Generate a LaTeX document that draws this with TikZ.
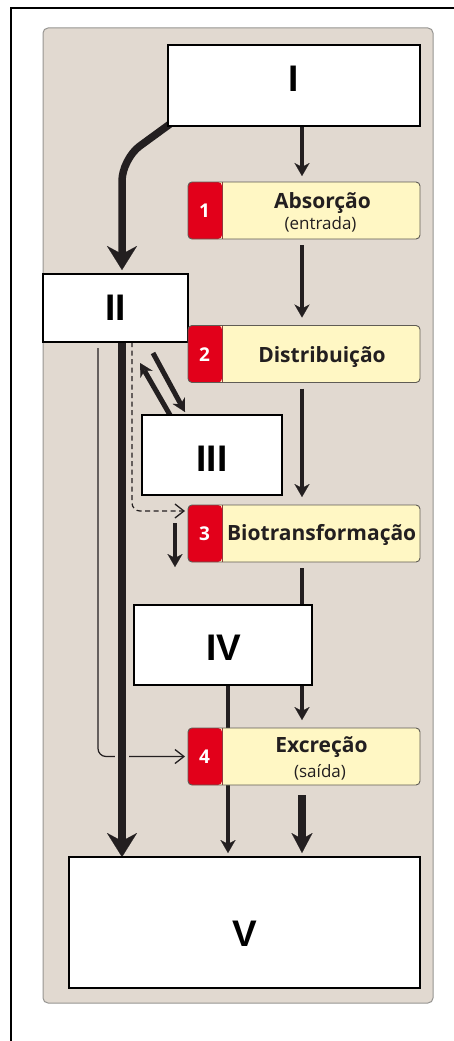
\documentclass[tikz,border=0pt]{standalone}
\usepackage{fontspec}
\setmainfont{Liberation Sans}
\newfontfamily\stagefont{Open Sans}
\usetikzlibrary{arrows.meta}
\definecolor{panelc}{RGB}{225,217,208}
\definecolor{panelb}{RGB}{150,148,145}
\definecolor{stagey}{RGB}{255,247,196}
\definecolor{stager}{RGB}{226,0,26}
\definecolor{ink}{RGB}{35,31,32}
\definecolor{stageb}{RGB}{95,92,85}
\pgfdeclarelayer{panel}
\pgfdeclarelayer{links}
\pgfsetlayers{panel,links,main}
\begin{document}
\begin{tikzpicture}[x=1pt,y=-1pt,
  rbox/.style={draw=black, line width=1.4pt, fill=white, inner sep=0pt, outer sep=0pt},
  rtext/.style={font=\fontsize{37}{40}\selectfont\bfseries, anchor=base, text=black, inner sep=0pt},
  stagebox/.style={draw=stageb, line width=0.9pt, fill=stagey, rounded corners=4pt,
    minimum width=232pt, minimum height=57pt, inner sep=0pt, outer sep=0pt,
    path picture={\fill[stager] (path picture bounding box.north west) rectangle ([xshift=34pt]path picture bounding box.south west);
      \draw[stageb!60!stager, line width=0.8pt] ([xshift=34pt]path picture bounding box.north west) -- ([xshift=34pt]path picture bounding box.south west);}},
  stagetitle/.style={font=\stagefont\fontsize{21}{23}\selectfont\bfseries, anchor=base, text=ink, inner sep=0pt},
  stagesub/.style={font=\stagefont\fontsize{17}{18}\selectfont, anchor=base, text=ink, inner sep=0pt},
  numtext/.style={font=\stagefont\fontsize{19}{20}\selectfont\bfseries, anchor=base, text=white, inner sep=0pt},
  link/.style={draw=ink, line width=4pt, -{Stealth[length=13pt,width=15pt,inset=4pt,line width=0.1pt]}},
  medlink/.style={draw=ink, line width=5pt, -{Stealth[length=13pt,width=14pt,inset=4pt,line width=0.1pt]}},
  midlink/.style={draw=ink, line width=7.5pt, -{Stealth[length=20pt,width=21pt,inset=6pt,line width=0.1pt]}},
  biglink/.style={draw=ink, line width=7.5pt, -{Stealth[length=24pt,width=30pt,inset=8pt,line width=0.1pt]}},
  thinlink/.style={draw=ink, line width=1.2pt, -{Straight Barb[length=9pt,width=14pt,line width=1.3pt]}}
]
\useasboundingbox (0,0) rectangle (454,1041);
\begin{pgfonlayer}{panel}
  \draw[fill=panelc, draw=panelb, line width=1pt, rounded corners=5pt] (43,28) rectangle (433,1003);
\end{pgfonlayer}
\draw[line width=1.5pt, black] (11,1050) -- (11,8) -- (460,8);

% roman boxes
\node[rbox, minimum width=252pt, minimum height=81pt] (I) at (294,85.5) {};
\node[rtext] (tI) at ([yshift=-6.5pt]I.center) {I};
\node[rbox, minimum width=145pt, minimum height=68pt] (II) at (115.5,308) {};
\node[rtext] (tII) at ([yshift=-12pt]II.center) {II};
\node[rbox, minimum width=140pt, minimum height=80pt] (III) at (212,455) {};
\node[rtext] (tIII) at ([yshift=-16pt]III.center) {III};
\node[rbox, minimum width=178pt, minimum height=80pt] (IV) at (223,645) {};
\node[rtext] (tIV) at ([xshift=1pt,yshift=-15pt]IV.center) {IV};
\node[rbox, minimum width=351pt, minimum height=131pt] (V) at (244.5,922.5) {};
\node[rtext] (tV) at ([yshift=-23.5pt]V.center) {V};

% stage boxes
\node[stagebox] (b1) at (304,210.5) {};
\node[numtext] (n1) at ([xshift=-99.5pt,yshift=-6.5pt]b1.center) {1};
\node[stagetitle] (t1) at ([xshift=18.5pt,yshift=2.2pt]b1.center) {Absorção};
\node[stagesub] (s1) at ([xshift=16.5pt,yshift=-18.8pt]b1.center) {(entrada)};

\node[stagebox] (b2) at (304,354) {};
\node[numtext] (n2) at ([xshift=-99.5pt,yshift=-7pt]b2.center) {2};
\node[stagetitle] (t2) at ([xshift=18pt,yshift=-8pt]b2.center) {Distribuição};

\node[stagebox] (b3) at (304,533.5) {};
\node[numtext] (n3) at ([xshift=-99.5pt,yshift=-7pt]b3.center) {3};
\node[stagetitle] (t3) at ([xshift=17.7pt,yshift=-6.8pt]b3.center) {Biotransformação};

\node[stagebox] (b4) at (304,756.5) {};
\node[numtext] (n4) at ([xshift=-99.5pt,yshift=-6.5pt]b4.center) {4};
\node[stagetitle] (t4) at ([xshift=17.5pt,yshift=3.8pt]b4.center) {Excreção};
\node[stagesub] (s4) at ([xshift=16pt,yshift=-21.2pt]b4.center) {(saída)};

\coordinate (cx) at ([xshift=-2pt]b1.center);
\coordinate (xII) at ([xshift=6.5pt]II.south);
\coordinate (cIV) at ([xshift=5pt]IV.south);

\begin{pgfonlayer}{links}
  % main column
  \draw[link, shorten >=6pt] (I.south -| cx) -- (b1.north -| cx);
  \draw[link, shorten <=6pt, shorten >=8pt] (b1.south -| cx) -- (b2.north -| cx);
  \draw[link, shorten <=6pt, shorten >=8pt] (b2.south -| cx) -- (b3.north -| cx);
  \draw[link, shorten <=6pt, shorten >=8pt] (b3.south -| cx) -- (b4.north -| cx);
  \draw[midlink, shorten <=10pt, shorten >=4pt] (b4.south -| cx) -- (V.north -| cx);
  % I to II
  \draw[biglink, rounded corners=22pt, shorten >=4pt] ([shift={(2,-2)}]I.south west) -- ++(-48,35) -- (II.north -| xII);
  % thin II to 4
  \draw[thinlink, rounded corners=8pt, shorten >=3pt] ([shift={(55,6)}]II.south west) |- (b4.west);
  % dashed II to 3
  \draw[thinlink, dash pattern=on 5pt off 3.5pt, rounded corners=8pt, shorten >=3pt] ([xshift=89pt]II.south west) |- ([yshift=-6pt]b3.north west);
  % II to V thick
  \draw[biglink, preaction={draw=panelc, line width=14pt, arrows=-}] (II.south -| xII) -- (V.north -| xII);
  % II <-> III
  \draw[medlink] ([shift={(-35,11)}]II.south east) -- ([shift={(43,-3)}]III.north west);
  \draw[medlink] ([xshift=28pt]III.north west) -- ([shift={(-48,21)}]II.south east);
  % small arrow beside 3
  \draw[link] ([shift={(-13,18)}]b3.north west) -- ++(0,44);
  % IV to V
  \draw[link, shorten >=4pt] (cIV) -- (cIV |- V.north);
\end{pgfonlayer}
\end{tikzpicture}
\end{document}
